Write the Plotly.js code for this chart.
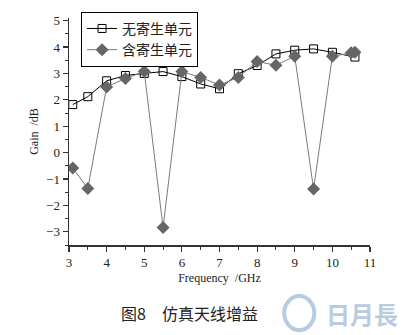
<!DOCTYPE html>
<html>
<head>
<meta charset="utf-8">
<script src="https://cdn.plot.ly/plotly-3.0.1.min.js"></script>
<style>html,body{margin:0;padding:0;background:#fff;}#chart{width:414px;height:335px;}</style>
</head>
<body>
<div id="chart"></div>
<script>
const freqA = [3.1, 3.5, 4, 4.5, 5, 5.5, 6, 6.5, 7, 7.5, 8, 8.5, 9, 9.5, 10, 10.6];
const gainA = [1.82, 2.12, 2.72, 2.92, 3.0, 3.07, 2.88, 2.6, 2.42, 2.99, 3.3, 3.74, 3.88, 3.93, 3.8, 3.62];
const freqB = [3.1, 3.5, 4, 4.5, 5, 5.5, 6, 6.5, 7, 7.5, 8, 8.5, 9, 9.5, 10, 10.5, 10.6];
const gainB = [-0.58, -1.36, 2.49, 2.81, 3.07, -2.84, 3.07, 2.85, 2.56, 2.85, 3.45, 3.31, 3.65, -1.38, 3.65, 3.78, 3.8];
const nameA = '无寄生单元';
const nameB = '含寄生单元';
const xTicks = [3, 4, 5, 6, 7, 8, 9, 10, 11];
const yTicks = [-3, -2, -1, 0, 1, 2, 3, 4, 5];
const caption = '图8　仿真天线增益';
const watermark = '日月長';

const serif = 'Liberation Serif, Times New Roman, serif';
const cjk = 'Noto Sans CJK SC, sans-serif';

const traces = [
  {x: freqA, y: gainA, name: nameA, type: 'scatter', mode: 'lines+markers',
   line: {color: '#000', width: 1},
   marker: {symbol: 'square-open', size: 8, color: '#000', line: {width: 1, color: '#000'}}},
  {x: freqB, y: gainB, name: nameB, type: 'scatter', mode: 'lines+markers',
   line: {color: '#7a7a7a', width: 1},
   marker: {symbol: 'diamond', size: 10, color: '#666666', line: {width: 0}}}
];

const layout = {
  width: 414, height: 335,
  margin: {l: 69, r: 44, t: 18, b: 90},
  paper_bgcolor: '#fff', plot_bgcolor: '#fff',
  showlegend: true,
  legend: {x: 0.04, y: 1.027, xanchor: 'left', yanchor: 'top',
    bordercolor: '#000', borderwidth: 1, bgcolor: '#fff',
    font: {family: cjk, size: 14, color: '#222'}, tracegroupgap: 0},
  xaxis: {range: [3, 11], tickvals: xTicks, ticktext: xTicks.map(String),
    showgrid: false, zeroline: false, showline: true, linecolor: '#333', linewidth: 1.5,
    ticks: 'outside', ticklen: 5, tickwidth: 1.2, tickcolor: '#333',
    minor: {dtick: 0.5, ticks: 'outside', ticklen: 3, tickwidth: 1, tickcolor: '#333'},
    tickfont: {family: serif, size: 13, color: '#222'},
    title: {text: 'Frequency  /GHz', font: {family: serif, size: 12, color: '#222'}, standoff: 4}},
  yaxis: {range: [-3.5, 5.1], tickvals: yTicks, ticktext: yTicks.map(v => v < 0 ? '\u2212' + Math.abs(v) : String(v)),
    showgrid: false, zeroline: false, showline: true, linecolor: '#333', linewidth: 1.5,
    ticks: 'outside', ticklen: 5, tickwidth: 1.2, tickcolor: '#333',
    minor: {dtick: 0.5, ticks: 'outside', ticklen: 3, tickwidth: 1, tickcolor: '#333'},
    tickfont: {family: serif, size: 13, color: '#222'},
    title: {text: 'Gain  /dB', font: {family: serif, size: 12, color: '#222'}, standoff: 5}},
  shapes: [
    {type: 'circle', xref: 'paper', yref: 'paper', x0: 0.715, x1: 0.815, y0: -0.375, y1: -0.225,
     line: {color: '#b9cbe0', width: 4}}
  ],
  annotations: [
    {text: caption, xref: 'paper', yref: 'paper', x: 0.4, y: -0.30, xanchor: 'center', yanchor: 'middle',
     showarrow: false, font: {family: cjk, size: 16, color: '#222'}},
    {text: watermark, xref: 'paper', yref: 'paper', x: 1.10, y: -0.30, xanchor: 'right', yanchor: 'middle',
     showarrow: false, font: {family: cjk, size: 24, color: '#b9cbe0', weight: 700}}
  ]
};

Plotly.newPlot('chart', traces, layout, {displayModeBar: false, staticPlot: true});
</script>
</body>
</html>
